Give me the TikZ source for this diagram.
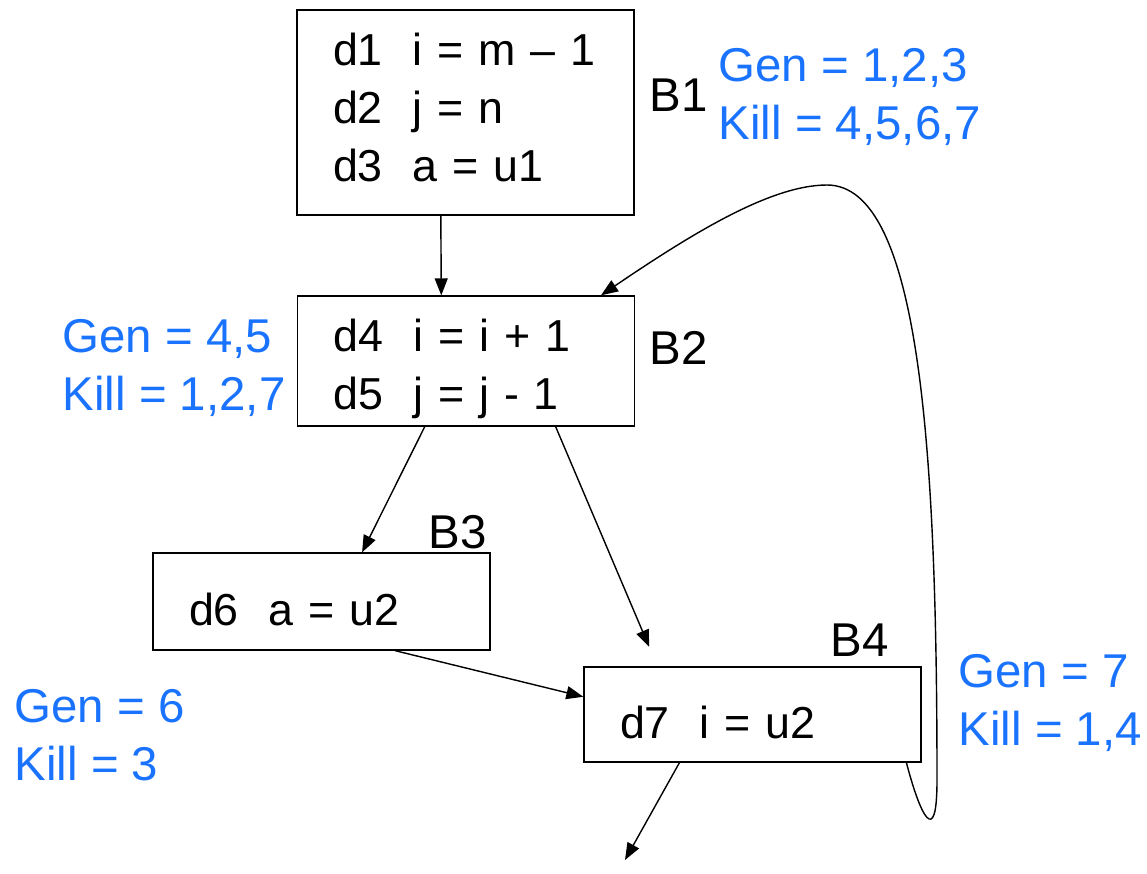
\documentclass[tikz,border=0pt]{standalone}
\usepackage{fontspec}
\setmainfont{Liberation Sans}
\usetikzlibrary{calc,arrows.meta}
\definecolor{genblue}{RGB}{26,115,255}

\begin{document}
\begin{tikzpicture}[x=0.02cm,y=-0.02cm,line width=0.8pt,
  font=\fontsize{27}{33}\selectfont,
  block/.style={draw,rectangle,align=left,inner xsep=0.72cm,inner ysep=0pt,text width=5.3cm,
    font=\fontsize{25.5}{33}\selectfont},
  lowtext/.style={execute at begin node={\rule{0pt}{28pt}}},
  flow/.style={-{Triangle[length=3.4mm,width=2.6mm]}},
  genkill/.style={genblue,align=left,anchor=west,inner sep=0pt}]
\useasboundingbox (0,0) rectangle (1147,873);
% basic blocks
\node[block,minimum height=4.1cm] (B1) at (465.5,112.5) {d1\ \ i = m \textendash{} 1\\d2\ \ j = n\\d3\ \ a = u1\rule[-6pt]{0pt}{6pt}};
\node[block,lowtext,minimum height=2.6cm] (B2) at (466,361) {d4\ \ i = i + 1\\d5\ \ j = j - 1};
\node[block,lowtext,minimum height=1.94cm] (B3) at (321.5,601.5) {d6\ \ a = u2};
\node[block,lowtext,minimum height=1.9cm] (B4) at (752.5,714.5) {d7\ \ i = u2};
\node (lB1) at (679,95) {B1};
\node (lB2) at (679,348) {B2};
\node (lB3) at (458,532) {B3};
\node (lB4) at (860,640) {B4};
% gen / kill sets
\node[genkill] (gk1) at (718,97) {Gen = 1,2,3\\Kill = 4,5,6,7};
\node[genkill] (gk2) at (62,368) {Gen = 4,5\\Kill = 1,2,7};
\node[genkill] (gk3) at (14,735) {Gen = 6\\Kill = 3};
\node[genkill] (gk4) at (958,703) {Gen = 7\\Kill = 1,4};
% edges
\coordinate (exit) at (625,860);
\draw[flow] ($(B1.south west)!0.427!(B1.south east)$) -- ($(B2.north west)!0.427!(B2.north east)$);
\draw[flow] ($(B2.south west)!0.378!(B2.south east)$) -- ($(B3.north west)!0.62!(B3.north east)$);
\draw[flow,shorten >=0.42cm] ($(B2.south west)!0.765!(B2.south east)$) -- ($(B4.north west)!0.219!(B4.north east)$);
\draw[flow] ($(B3.south west)!0.718!(B3.south east)$) -- ($(B4.north west)!0.316!(B4.south west)$);
\draw[flow] ($(B4.south west)!0.284!(B4.south east)$) -- (exit);
\draw[flow] ($(B4.south west)!0.955!(B4.south east)$)
    .. controls (920,815) and (937,850) .. (937,780)
    .. controls (937,450) and (920,185) .. (827,185)
    .. controls (770,185) and (690,235) .. ($(B2.north west)!0.899!(B2.north east)$);
\end{tikzpicture}
\end{document}
